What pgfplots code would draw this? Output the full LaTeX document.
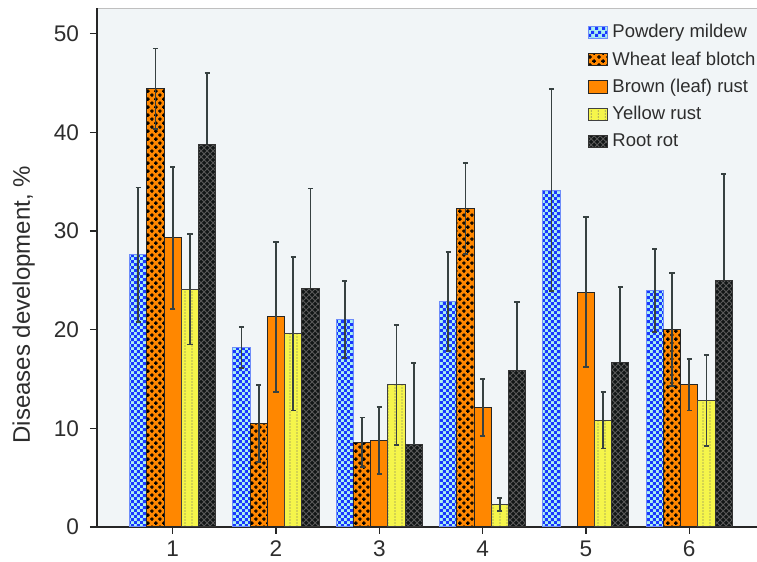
\documentclass[border=0pt]{standalone}
\usepackage{fontspec}
\setmainfont{Liberation Sans}
\usepackage{pgfplots}
\pgfplotsset{compat=1.18}
\usetikzlibrary{patterns}

\definecolor{bgcol}{RGB}{241,245,247}
\definecolor{textcol}{RGB}{45,45,45}
\definecolor{errcol}{RGB}{55,65,65}
\definecolor{cyanlt}{RGB}{170,240,240}
\definecolor{bluedk}{RGB}{25,55,255}
\definecolor{bluelt}{RGB}{110,140,250}
\definecolor{orng}{RGB}{255,135,0}
\definecolor{yel}{RGB}{245,245,75}
\definecolor{blk}{RGB}{18,22,22}

% custom fill patterns
\pgfdeclarepatternformonly{bluecheck}{\pgfpointorigin}{\pgfqpoint{3.2pt}{3.2pt}}{\pgfqpoint{3.2pt}{3.2pt}}{%
  \pgfpathrectangle{\pgfpointorigin}{\pgfqpoint{1.6pt}{1.6pt}}%
  \pgfpathrectangle{\pgfqpoint{1.6pt}{1.6pt}}{\pgfqpoint{1.6pt}{1.6pt}}%
  \pgfusepath{fill}}
\pgfdeclarepatternformonly{pluses}{\pgfpointorigin}{\pgfqpoint{4.2pt}{4.2pt}}{\pgfqpoint{4.2pt}{4.2pt}}{%
  \pgfsetlinewidth{0.75pt}%
  \pgfpathmoveto{\pgfqpoint{0.1pt}{1.05pt}}\pgfpathlineto{\pgfqpoint{2.0pt}{1.05pt}}%
  \pgfpathmoveto{\pgfqpoint{1.05pt}{0.1pt}}\pgfpathlineto{\pgfqpoint{1.05pt}{2.0pt}}%
  \pgfpathmoveto{\pgfqpoint{2.2pt}{3.15pt}}\pgfpathlineto{\pgfqpoint{4.1pt}{3.15pt}}%
  \pgfpathmoveto{\pgfqpoint{3.15pt}{2.2pt}}\pgfpathlineto{\pgfqpoint{3.15pt}{4.1pt}}%
  \pgfusepath{stroke}}
\pgfdeclarepatternformonly{vdots}{\pgfpointorigin}{\pgfqpoint{3.5pt}{1.6pt}}{\pgfqpoint{3.5pt}{1.6pt}}{%
  \pgfsetlinewidth{0.4pt}%
  \pgfpathmoveto{\pgfqpoint{1.75pt}{0.2pt}}\pgfpathlineto{\pgfqpoint{1.75pt}{1.0pt}}%
  \pgfusepath{stroke}}

\pgfplotsset{
  pm/.style={fill=cyanlt, draw=bluelt, line width=0.5pt, postaction={pattern=bluecheck, pattern color=bluedk}},
  wlb/.style={fill=orng, draw=black!85, line width=0.5pt, postaction={pattern=pluses, pattern color=black}},
  br/.style={fill=orng, draw=black!85, line width=0.5pt},
  yr/.style={fill=yel, draw=black!75, line width=0.5pt, postaction={pattern=vdots, pattern color=black!60}},
  rr/.style={fill=blk, draw=black!80, line width=0.5pt, postaction={pattern=crosshatch, pattern color=black!65!white}},
}

\begin{document}
\begin{tikzpicture}
\begin{axis}[
  scale only axis,
  width=330pt, height=259.5pt,
  ybar=0pt, bar width=0.16667,
  xmin=0.267, xmax=6.656,
  ymin=0, ymax=52.6,
  enlargelimits=false,
  xtick={1,2,3,4,5,6},
  ytick={0,10,20,30,40,50},
  axis x line*=bottom, axis y line*=left,
  axis line style={line width=0.8pt, draw=black!85},
  tick align=outside,
  major tick length=3.5pt,
  tick style={line width=0.7pt, draw=black!85},
  axis background/.style={fill=bgcol, draw=black!25, line width=0.4pt},
  /pgf/number format/assume math mode=true,
  tick label style={font=\fontsize{11.3}{13}\selectfont, text=textcol},
  yticklabel style={xshift=-2pt},
  ylabel={Diseases development, \%},
  ylabel style={font=\fontsize{12}{14}\selectfont, text=textcol, at={(axis description cs:-0.111,0.428)}, anchor=center},
  legend cell align=left,
  legend style={at={(axis description cs:0.744,0.977)}, anchor=north west, draw=none, fill=none,
    font=\fontsize{9.25}{11}\selectfont, text=textcol, row sep=1.5pt, inner sep=0pt},
  legend image code/.code={\draw[#1] (0pt,-3pt) rectangle (9.5pt,3.2pt);},
  error bars/error bar style={line width=0.9pt, draw=errcol},
  error bars/error mark options={rotate=90, line width=0.9pt, draw=errcol, mark size=1.3pt},
]
\addplot[pm, bar shift=-0.33333, error bars/.cd, y dir=both, y explicit]
  table[x=x, y=y, y error=e] {
x y e
1 27.6 6.8
2 18.2 2.05
3 21.0 3.9
4 22.85 5.0
5 34.15 10.2
6 24.0 4.2
};
\addlegendentry{Powdery mildew}
\addplot[wlb, bar shift=-0.16667, error bars/.cd, y dir=both, y explicit]
  table[x=x, y=y, y error=e] {
x y e
1 44.4 4.1
2 10.5 3.9
3 8.6 2.5
4 32.3 4.6
6 20.0 5.75
};
\addlegendentry{Wheat leaf blotch}
\addplot[br, bar shift=0, error bars/.cd, y dir=both, y explicit]
  table[x=x, y=y, y error=e] {
x y e
1 29.3 7.2
2 21.3 7.6
3 8.75 3.4
4 12.1 2.9
5 23.8 7.6
6 14.4 2.6
};
\addlegendentry{Brown (leaf) rust}
\addplot[yr, bar shift=0.16667, error bars/.cd, y dir=both, y explicit]
  table[x=x, y=y, y error=e] {
x y e
1 24.1 5.6
2 19.6 7.8
3 14.4 6.1
4 2.3 0.65
5 10.8 2.85
6 12.8 4.6
};
\addlegendentry{Yellow rust}
\addplot[rr, bar shift=0.33333, error bars/.cd, y dir=plus, y explicit]
  table[x=x, y=y, y error=e] {
x y e
1 38.8 7.2
2 24.2 10.1
3 8.35 8.3
4 15.9 6.9
5 16.7 7.6
6 25.0 10.8
};
\addlegendentry{Root rot}
\end{axis}
\pgfresetboundingbox
\path (current axis.south west) ++(-48.5pt,-17.5pt) rectangle ++(378.5pt,281pt);
\end{tikzpicture}
\end{document}
